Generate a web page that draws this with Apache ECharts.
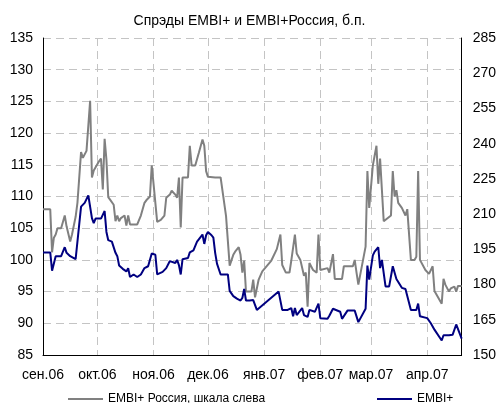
<!DOCTYPE html>
<html>
<head>
<meta charset="utf-8">
<script src="https://cdn.jsdelivr.net/npm/echarts@6/dist/echarts.min.js"></script>
<style>
  html, body { margin: 0; padding: 0; background: #fff; }
  #chart { width: 499px; height: 403px; }
</style>
</head>
<body>
<div id="chart"></div>
<script>
// EMBI+ Россия (левая шкала), б.п.
var rusDates = [
  '2006-09-01','2006-09-05','2006-09-06','2006-09-07','2006-09-08','2006-09-09','2006-09-11','2006-09-13','2006-09-14','2006-09-16',
  '2006-09-17','2006-09-19','2006-09-20','2006-09-22','2006-09-23','2006-09-24','2006-09-25','2006-09-27','2006-09-28','2006-09-29',
  '2006-09-30','2006-10-02','2006-10-03','2006-10-04','2006-10-05','2006-10-06','2006-10-07','2006-10-08','2006-10-10','2006-10-11',
  '2006-10-12','2006-10-13','2006-10-14','2006-10-15','2006-10-16','2006-10-17','2006-10-18','2006-10-19','2006-10-23','2006-10-25',
  '2006-10-26','2006-10-27','2006-10-28','2006-10-30','2006-10-31','2006-11-01','2006-11-02','2006-11-03','2006-11-05','2006-11-07',
  '2006-11-08','2006-11-10','2006-11-11','2006-11-13','2006-11-14','2006-11-15','2006-11-16','2006-11-17','2006-11-20','2006-11-21',
  '2006-11-22','2006-11-24','2006-11-26','2006-11-28','2006-11-29','2006-11-30','2006-12-01','2006-12-05','2006-12-08','2006-12-11',
  '2006-12-12','2006-12-13','2006-12-15','2006-12-16','2006-12-18','2006-12-19','2006-12-20','2006-12-21','2006-12-22','2006-12-25',
  '2006-12-26','2006-12-27','2006-12-29','2006-12-31','2007-01-05','2007-01-08','2007-01-10','2007-01-11','2007-01-13','2007-01-15',
  '2007-01-16','2007-01-18','2007-01-19','2007-01-21','2007-01-23','2007-01-24','2007-01-25','2007-01-26','2007-01-28','2007-01-30',
  '2007-01-31','2007-02-01','2007-02-02','2007-02-05','2007-02-06','2007-02-08','2007-02-09','2007-02-13','2007-02-14','2007-02-19',
  '2007-02-20','2007-02-21','2007-02-22','2007-02-26','2007-02-27','2007-02-28','2007-03-01','2007-03-02','2007-03-04','2007-03-05',
  '2007-03-06','2007-03-08','2007-03-12','2007-03-13','2007-03-14','2007-03-15','2007-03-16','2007-03-18','2007-03-20','2007-03-21',
  '2007-03-23','2007-03-25','2007-03-26','2007-03-27','2007-03-28','2007-03-29','2007-03-31','2007-04-02','2007-04-03','2007-04-04',
  '2007-04-05','2007-04-06','2007-04-09','2007-04-10','2007-04-11','2007-04-13','2007-04-14','2007-04-16','2007-04-17','2007-04-18',
  '2007-04-20'
];
var rusVals = [
  108, 108, 101.2, 103.5, 104, 105, 105, 107, 105.3, 102.9,
  104, 106.8, 109, 117, 116.1, 116.3, 117.2, 125.1, 113, 114.1,
  114.3, 115.6, 116, 111.1, 119.1, 115.8, 109.9, 109.5, 108.7, 106.1,
  107, 106.1, 106.6, 106.3, 107, 105.4, 107, 105.6, 105.6, 107,
  107, 109, 109.4, 110, 114.9, 112, 112, 106, 106.3, 107,
  109.8, 110.3, 110.9, 110.3, 109.8, 113, 105.1, 113, 113, 118,
  114.9, 114.9, 116.9, 119, 118, 114, 113.1, 113, 113, 106.9,
  107, 99.1, 100.8, 101.3, 102, 100.8, 98, 99.9, 95, 95,
  96.9, 94.1, 96.9, 98.2, 99.9, 101.7, 104, 99.2, 98, 98,
  99.9, 104, 101, 100, 97.5, 98, 92.6, 99.5, 98.4, 98,
  104, 98.4, 98.7, 98.7, 98, 100.9, 97, 97, 99, 99,
  100, 98, 96.1, 102.1, 114, 108.2, 108.5, 114.9, 118, 112,
  116, 106.1, 107, 114, 110, 111, 109, 108.2, 107, 108,
  100, 100, 100.5, 114, 100, 100, 98.4, 97.8, 97.9, 99,
  95.1, 95, 93.1, 97, 96.1, 95, 95.5, 95.8, 95, 95.9,
  95.9
];

// EMBI+ (правая шкала), б.п.
var embiDates = [
  '2006-09-01','2006-09-05','2006-09-06','2006-09-08','2006-09-11','2006-09-13','2006-09-14','2006-09-16','2006-09-19','2006-09-20',
  '2006-09-22','2006-09-24','2006-09-26','2006-09-28','2006-09-29','2006-09-30','2006-10-03','2006-10-05','2006-10-06','2006-10-07',
  '2006-10-09','2006-10-11','2006-10-12','2006-10-13','2006-10-15','2006-10-17','2006-10-18','2006-10-19','2006-10-21','2006-10-23',
  '2006-10-25','2006-10-27','2006-10-29','2006-10-30','2006-10-31','2006-11-02','2006-11-03','2006-11-06','2006-11-08','2006-11-10',
  '2006-11-13','2006-11-14','2006-11-15','2006-11-16','2006-11-17','2006-11-20','2006-11-21','2006-11-23','2006-11-25','2006-11-28',
  '2006-11-29','2006-11-30','2006-12-01','2006-12-03','2006-12-04','2006-12-05','2006-12-06','2006-12-07','2006-12-08','2006-12-12',
  '2006-12-13','2006-12-15','2006-12-17','2006-12-19','2006-12-20','2006-12-21','2006-12-22','2006-12-24','2006-12-26','2006-12-28',
  '2007-01-09','2007-01-11','2007-01-14','2007-01-16','2007-01-17','2007-01-18','2007-01-19','2007-01-22','2007-01-23','2007-01-25',
  '2007-01-26','2007-01-29','2007-01-31','2007-02-01','2007-02-05','2007-02-06','2007-02-08','2007-02-09','2007-02-12','2007-02-13',
  '2007-02-16','2007-02-20','2007-02-22','2007-02-26','2007-02-27','2007-02-28','2007-03-02','2007-03-03','2007-03-05','2007-03-06',
  '2007-03-07','2007-03-09','2007-03-11','2007-03-13','2007-03-15','2007-03-16','2007-03-18','2007-03-20','2007-03-23','2007-03-26',
  '2007-03-27','2007-03-28','2007-04-01','2007-04-03','2007-04-05','2007-04-06','2007-04-09','2007-04-10','2007-04-13','2007-04-15',
  '2007-04-17','2007-04-18','2007-04-20'
];
var embiVals = [
  193.7, 193.7, 185.9, 192.1, 192.1, 195.9, 193.5, 192.1, 190.8, 198.3,
  213.2, 214.8, 218.0, 208.3, 206.2, 208.1, 208.1, 211.3, 202.4, 198.9,
  198.3, 193.5, 192.1, 188.1, 186.7, 185.6, 187.0, 183.2, 184.3, 183.2,
  184.3, 187.0, 187.8, 188.3, 193.2, 192.7, 184.3, 185.4, 187.0, 190.0,
  189.2, 190.5, 188.3, 184.3, 190.8, 191.3, 193.7, 194.6, 198.3, 201.3,
  197.3, 201.0, 202.4, 201.0, 200.0, 193.5, 188.9, 188.6, 184.3, 184.3,
  177.3, 175.1, 174.0, 173.2, 174.3, 178.1, 173.2, 173.2, 173.4, 169.2,
  177.0, 169.2, 169.2, 170.0, 166.5, 170.0, 167.0, 170.0, 167.0, 166.2,
  169.2, 168.4, 171.9, 165.7, 165.4, 166.7, 169.7, 169.2, 168.4, 165.4,
  168.9, 168.9, 164.0, 169.7, 188.1, 182.1, 192.4, 194.0, 195.9, 187.0,
  190.5, 179.2, 179.2, 187.8, 182.4, 182.4, 178.6, 178.1, 169.2, 169.2,
  171.9, 166.5, 165.7, 163.5, 160.8, 160.3, 156.2, 158.4, 158.4, 158.6,
  163.0, 162.7, 157.0
];

var monthNames = ['янв.', 'фев.', 'мар.', 'апр.', 'май.', 'июн.', 'июл.', 'авг.', 'сен.', 'окт.', 'ноя.', 'дек.'];

// все календарные дни периода
var days = [];
for (var t = Date.UTC(2006, 8, 1); t <= Date.UTC(2007, 3, 20); t += 86400000) {
  days.push(new Date(t).toISOString().slice(0, 10));
}

function isMonthStart(idx) {
  return days[idx].slice(8) === '01';
}

function pairs(dates, vals) {
  return dates.map(function (d, i) { return [d, vals[i]]; });
}

var chart = echarts.init(document.getElementById('chart'));

var fontFamily = '"Liberation Sans", Arial, sans-serif';
var gridLine = { show: true, lineStyle: { color: '#c4c4c4', type: [8, 5], width: 1 } };

var option = {
  animation: false,
  backgroundColor: '#fff',
  textStyle: { fontFamily: fontFamily },
  title: {
    text: 'Спрэды EMBI+ и EMBI+Россия, б.п.',
    left: 'center',
    top: 9,
    textStyle: { fontSize: 14, fontWeight: 'normal', color: '#000', fontFamily: fontFamily }
  },
  legend: [{
    data: ['EMBI+ Россия, шкала слева'],
    left: 63,
    top: 388,
    icon: 'rect',
    itemWidth: 35,
    itemHeight: 2,
    textStyle: { fontSize: 12, color: '#000' }
  }, {
    data: ['EMBI+'],
    left: 372,
    top: 388,
    icon: 'rect',
    itemWidth: 35,
    itemHeight: 2,
    textStyle: { fontSize: 12, color: '#000' }
  }],
  grid: { left: 43, right: 36, top: 38, bottom: 48 },
  xAxis: {
    type: 'category',
    data: days,
    boundaryGap: false,
    axisLine: { lineStyle: { color: '#000', width: 1 } },
    axisTick: { show: false },
    axisLabel: {
      interval: isMonthStart,
      margin: 13,
      fontSize: 14,
      color: '#000',
      formatter: function (v) {
        return monthNames[parseInt(v.slice(5, 7), 10) - 1] + v.slice(2, 4);
      }
    },
    splitLine: { show: true, interval: isMonthStart, lineStyle: gridLine.lineStyle }
  },
  yAxis: [{
    type: 'value',
    min: 85,
    max: 135,
    interval: 5,
    axisLine: { show: true, lineStyle: { color: '#000' } },
    axisTick: { show: false },
    axisLabel: { fontSize: 14, color: '#000', margin: 10 },
    splitLine: gridLine
  }, {
    type: 'value',
    min: 150,
    max: 285,
    interval: 15,
    position: 'right',
    axisLine: { show: true, lineStyle: { color: '#000' } },
    axisTick: { show: false },
    axisLabel: { fontSize: 14, color: '#000', margin: 11 },
    splitLine: { show: false }
  }],
  series: [{
    name: 'EMBI+ Россия, шкала слева',
    type: 'line',
    yAxisIndex: 0,
    data: pairs(rusDates, rusVals),
    showSymbol: false,
    lineStyle: { color: '#808080', width: 2 },
    itemStyle: { color: '#808080' }
  }, {
    name: 'EMBI+',
    type: 'line',
    yAxisIndex: 1,
    data: pairs(embiDates, embiVals),
    showSymbol: false,
    lineStyle: { color: '#000080', width: 2 },
    itemStyle: { color: '#000080' }
  }]
};

chart.setOption(option);
</script>
</body>
</html>
